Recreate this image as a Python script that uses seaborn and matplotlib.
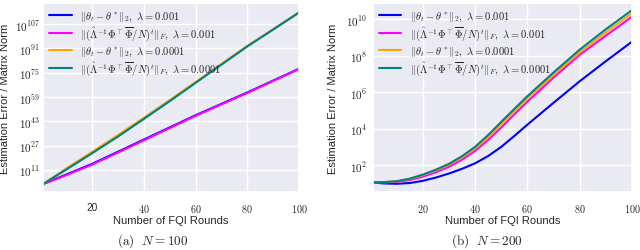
import numpy as np
import seaborn as sns
import matplotlib
matplotlib.use("Agg")
import matplotlib.pyplot as plt
from matplotlib.ticker import FixedLocator, NullLocator

# values, stored as log10 exponents
rounds_a = [1, 10, 20, 30, 40, 50, 60, 70, 80, 90, 100]
theta_a_1e3 = [1.7, 8.0, 15.0, 23.0, 31.0, 39.0, 47.0, 54.5, 62.0, 69.8, 77.6]
norm_a_1e3 = [1.7, 7.6, 14.5, 22.5, 30.5, 38.6, 46.6, 54.2, 61.7, 69.6, 77.4]
theta_a_1e4 = [1.7, 12.0, 22.9, 34.0, 45.4, 57.0, 68.9, 80.8, 92.7, 103.7, 114.8]
norm_a_1e4 = [1.7, 11.3, 22.0, 33.0, 44.6, 56.3, 68.3, 80.3, 92.3, 103.4, 114.6]

rounds_b = [1, 5, 10, 15, 20, 25, 30, 35, 40, 45, 50, 55, 60, 70, 80, 90, 100]
theta_b_1e3 = [1.05, 1.0, 0.98, 1.02, 1.14, 1.32, 1.54, 1.8, 2.1, 2.5, 3.0, 3.6, 4.22, 5.42, 6.6, 7.7, 8.77]
norm_b_1e3 = [1.06, 1.06, 1.08, 1.18, 1.37, 1.61, 1.91, 2.3, 2.78, 3.38, 4.06, 4.78, 5.48, 6.8, 8.05, 9.1, 10.14]
theta_b_1e4 = [1.06, 1.07, 1.11, 1.24, 1.45, 1.71, 2.02, 2.43, 2.92, 3.53, 4.24, 4.96, 5.67, 6.95, 8.18, 9.28, 10.33]
norm_b_1e4 = [1.06, 1.07, 1.12, 1.26, 1.48, 1.75, 2.07, 2.49, 3.0, 3.65, 4.37, 5.08, 5.78, 7.08, 8.33, 9.45, 10.5]

labels = [r"$\|\theta_t - \theta^*\|_2,\ \lambda = 0.001$",
          r"$\|(\hat{\Lambda}^{-1}\Phi^\top\overline{\Phi}/N)^t\|_F,\ \lambda = 0.001$",
          r"$\|\theta_t - \theta^*\|_2,\ \lambda = 0.0001$",
          r"$\|(\hat{\Lambda}^{-1}\Phi^\top\overline{\Phi}/N)^t\|_F,\ \lambda = 0.0001$"]
colors = ["#0000ff", "#ff00ff", "#ffa500", "#008080"]

sns.set_theme(style="darkgrid")
plt.rcParams["font.family"] = ["Liberation Sans", "DejaVu Sans"]
plt.rcParams["mathtext.fontset"] = "cm"

fig = plt.figure(figsize=(6.4, 2.51), dpi=100)
ax1 = fig.add_axes([0.0672, 0.2311, 0.4, 0.753])
ax2 = fig.add_axes([0.5828, 0.2311, 0.4047, 0.753])

panels = [
    (ax1, rounds_a, [theta_a_1e3, norm_a_1e3, theta_a_1e4, norm_a_1e4], -0.128, 2),
    (ax2, rounds_b, [theta_b_1e3, norm_b_1e3, theta_b_1e4, norm_b_1e4], -0.135, 4),
]
for ax, x, series, ylab_x, ypad in panels:
    for s, c, lab in zip(series, colors, labels):
        sns.lineplot(x=x, y=10.0 ** np.array(s), color=c, label=lab, lw=1.5, ax=ax)
    ax.set_yscale("log")
    ax.set_xlim(1, 100)
    ax.set_xlabel("Number of FQI Rounds", fontsize=8, labelpad=1)
    ax.set_ylabel("Estimation Error / Matrix Norm", fontsize=8)
    ax.yaxis.set_label_coords(ylab_x, 0.5)
    ax.legend(loc="upper left", frameon=False, fontsize=7.6, handlelength=2.1,
              handletextpad=0.8, borderaxespad=0.2, labelspacing=0.2)
    ax.tick_params(axis="x", labelsize=7.3, pad=1)
    ax.tick_params(axis="y", labelsize=8, length=0, pad=ypad)

# left panel ticks
ax1.set_ylim(10.0 ** -3.5, 10.0 ** 120.9)
exp_a = [11, 27, 43, 59, 75, 91, 107]
ax1.yaxis.set_major_locator(FixedLocator([10.0 ** e for e in exp_a]))
ax1.yaxis.set_minor_locator(NullLocator())
ax1.set_yticklabels([rf"$10^{{{e}}}$" for e in exp_a])
ax1.set_xticks([20, 40, 60, 80, 100])
ax1.set_xticklabels(["20", "$40$", "$60$", "$80$", "$100$"])

# right panel ticks
ax2.set_ylim(10.0 ** 0.53, 10.0 ** 10.89)
exp_b = [2, 4, 6, 8, 10]
ax2.yaxis.set_major_locator(FixedLocator([10.0 ** e for e in exp_b]))
ax2.yaxis.set_minor_locator(NullLocator())
ax2.set_yticklabels([rf"$10^{{{e}}}$" for e in exp_b])
ax2.set_xticks([20, 40, 60, 80, 100])
ax2.set_xticklabels(["$20$", "$40$", "$60$", "$80$", "$100$"])

fig.text(153 / 640, 1 - 241 / 251, r"$\mathrm{(a)}\ \ N = 100$", ha="center",
         va="center", fontsize=9.5)
fig.text(487 / 640, 1 - 241 / 251, r"$\mathrm{(b)}\ \ N = 200$", ha="center",
         va="center", fontsize=9.5)

fig.savefig("out.png", dpi=100)
